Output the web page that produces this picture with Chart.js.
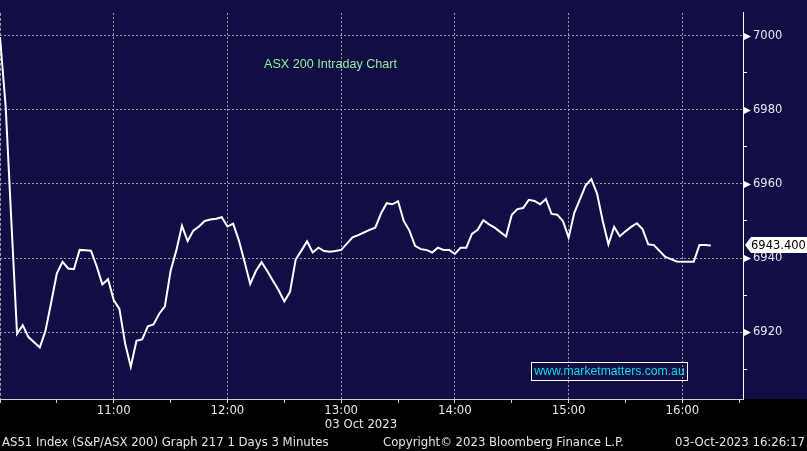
<!DOCTYPE html>
<html>
<head>
<meta charset="utf-8">
<script src="https://cdn.jsdelivr.net/npm/chart.js@4.4.0/dist/chart.umd.min.js"></script>
<style>
  body { margin: 0; background: #000; }
  #wrap { position: relative; width: 807px; height: 451px; overflow: hidden; background: #000; }
  #chart { position: absolute; left: 0; top: 0; }
  .txt { position: absolute; white-space: nowrap; }
  #title { left: 264px; top: 57px; font: 12.6px 'Liberation Sans', Arial, sans-serif; color: #96ee96; }
  #site { left: 531px; top: 362px; width: 155px; height: 17px; border: 1px solid #fff; font: 12.2px 'Liberation Sans', Arial, sans-serif; color: #14dcec; line-height: 17px; text-align: center; }
  #date { left: 361px; top: 416px; transform: translateX(-50%); font: 13px 'DejaVu Sans Condensed', 'DejaVu Sans', sans-serif; color: #e6e6e6; }
  .foot { top: 434px; font: 13px 'DejaVu Sans Condensed', 'DejaVu Sans', sans-serif; color: #e6e6e6; }
</style>
</head>
<body>
<div id="wrap">
  <canvas id="chart" width="807" height="451"></canvas>
  <div class="txt" id="title">ASX 200 Intraday Chart</div>
  <div class="txt" id="site">www.marketmatters.com.au</div>
  <div class="txt" id="date">03 Oct 2023</div>
  <div class="txt foot" style="left:2px">AS51 Index (S&amp;P/ASX 200) Graph 217 1 Days 3 Minutes</div>
  <div class="txt foot" style="left:383px">Copyright© 2023 Bloomberg Finance L.P.</div>
  <div class="txt foot" style="right:2px">03-Oct-2023 16:26:17</div>
</div>
<script>
// session setup: 3 minute closes from 10:00
const sessionStartHour = 10;
const intervalMinutes = 3;

// ASX 200 closes, one per 3 minute bar
const closes = [
  6999.6, 6980.8, 6949.8, 6919.6, 6921.9, 6918.7, 6917.3, 6915.9, 6920.4, 6928.0,
  6935.9, 6939.0, 6937.2, 6937.0, 6942.2, 6942.1, 6942.0, 6937.8, 6932.9, 6934.3,
  6928.7, 6926.3, 6917.0, 6910.7, 6917.7, 6918.1, 6921.6, 6922.1, 6925.0, 6927.0,
  6936.5, 6942.0, 6948.7, 6944.6, 6947.4, 6948.5, 6950.0, 6950.4, 6950.6, 6951.0,
  6948.5, 6949.3, 6944.8, 6939.1, 6933.0, 6936.5, 6938.9, 6936.5, 6933.9, 6931.3,
  6928.3, 6930.9, 6939.6, 6942.0, 6944.5, 6941.5, 6942.8, 6941.9, 6941.7, 6941.9,
  6942.2, 6943.9, 6945.6, 6946.2, 6946.9, 6947.6, 6948.2, 6952.0, 6954.8, 6954.5,
  6955.3, 6950.0, 6947.4, 6943.3, 6942.4, 6942.2, 6941.5, 6942.8, 6942.2, 6942.2,
  6941.1, 6942.8, 6942.8, 6946.5, 6947.6, 6950.2, 6949.1, 6948.2, 6947.0, 6945.8,
  6951.7, 6953.2, 6953.5, 6955.7, 6955.4, 6954.5, 6955.9, 6951.9, 6951.7, 6950.0,
  6945.5, 6952.2, 6955.9, 6959.6, 6961.3, 6957.4, 6950.0, 6943.7, 6948.4, 6945.9,
  6947.2, 6948.4, 6949.4, 6947.8, 6943.7, 6943.5, 6941.9, 6940.3, 6939.7, 6939.1,
  6939.0, 6939.0, 6939.0, 6943.5, 6943.5, 6943.4
];

// axis ticks
const priceTicks = [6920, 6940, 6960, 6980, 7000];
const minorPriceTicks = [6910, 6930, 6950, 6970, 6990];
const hourLabels = ['11:00', '12:00', '13:00', '14:00', '15:00', '16:00'];
const halfHourTicks = [0, 30, 60, 90, 120, 150, 180, 210, 240, 270, 300, 330, 360, 390];

const navy = '#100e45';
const gridGrey = '#a0a0a0';
const textColor = '#e6e6f0';

function toClock(mins) {
    const h = sessionStartHour + Math.floor(mins / 60);
    const m = mins % 60;
    return h + ':' + String(m).padStart(2, '0');
}

const points = closes.map((v, i) => ({ x: i * intervalMinutes, y: v }));

// navy panel, tick arrows and last price tag
const bloombergFrame = {
    id: 'bloombergFrame',
    beforeDraw(chart) {
        const ctx = chart.ctx;
        ctx.save();
        ctx.fillStyle = '#000';
        ctx.fillRect(0, 0, chart.width, chart.height);
        ctx.fillStyle = navy;
        ctx.fillRect(0, 0, chart.width, chart.chartArea.bottom);
        ctx.restore();
    },
    afterDraw(chart) {
        const ctx = chart.ctx;
        const yScale = chart.scales.y;
        const ax = chart.chartArea.right;
        ctx.save();
        ctx.fillStyle = '#fff';
        priceTicks.forEach(v => {
            const py = Math.round(yScale.getPixelForValue(v)) + 0.5;
            ctx.beginPath();
            ctx.moveTo(ax + 1, py - 3.5);
            ctx.lineTo(ax + 8, py);
            ctx.lineTo(ax + 1, py + 3.5);
            ctx.closePath();
            ctx.fill();
        });

        const last = closes[closes.length - 1];
        const py = Math.round(yScale.getPixelForValue(last));
        ctx.beginPath();
        ctx.moveTo(ax + 2, py);
        ctx.lineTo(ax + 8, py - 8);
        ctx.lineTo(chart.width, py - 8);
        ctx.lineTo(chart.width, py + 8);
        ctx.lineTo(ax + 8, py + 8);
        ctx.closePath();
        ctx.fill();
        ctx.fillStyle = '#000';
        ctx.font = "11.5px 'DejaVu Sans'";
        ctx.textBaseline = 'middle';
        ctx.fillText(last.toFixed(3), ax + 8, py + 1);
        ctx.restore();
    }
};

new Chart(document.getElementById('chart'), {
    type: 'line',
    data: {
        datasets: [{
            label: 'AS51 Index',
            data: points,
            borderColor: '#ffffff',
            borderWidth: 2,
            pointRadius: 0,
            tension: 0
        }]
    },
    options: {
        responsive: false,
        animation: false,
        devicePixelRatio: 1,
        layout: { padding: 0 },
        plugins: { legend: { display: false }, tooltip: { enabled: false } },
        scales: {
            x: {
                type: 'linear',
                min: 0,
                max: 392,
                afterBuildTicks: s => { s.ticks = halfHourTicks.map(v => ({ value: v })); },
                afterFit: s => { s.height = 52; },
                grid: {
                    color: c => (c.tick && c.tick.value % 60 === 0) ? gridGrey : 'transparent',
                    tickColor: '#d0d0d0',
                    tickLength: 4
                },
                border: {
                    color: '#d0d0d0',
                    width: 1,
                    dash: c => (c.tick && c.tick.value === 0) ? [3, 2] : [2, 2]
                },
                ticks: {
                    autoSkip: false,
                    maxRotation: 0,
                    padding: 0,
                    color: textColor,
                    font: { family: "'DejaVu Sans Condensed', 'DejaVu Sans'", size: 13 },
                    callback: v => {
                        const lbl = toClock(v);
                        return hourLabels.includes(lbl) ? lbl : '';
                    }
                }
            },
            y: {
                position: 'right',
                min: 6902,
                max: 7006.1,
                afterBuildTicks: s => {
                    s.ticks = priceTicks.concat(minorPriceTicks).sort((a, b) => a - b).map(v => ({ value: v }));
                },
                afterFit: s => { s.width = 64; },
                grid: {
                    color: c => (c.tick && priceTicks.includes(c.tick.value)) ? gridGrey : 'transparent',
                    tickColor: c => (c.tick && priceTicks.includes(c.tick.value)) ? 'transparent' : '#ffffff',
                    tickLength: 4
                },
                border: { color: '#ffffff', width: 1, dash: [2, 2] },
                ticks: {
                    autoSkip: false,
                    padding: 6,
                    color: textColor,
                    font: { family: "'DejaVu Sans'", size: 11.5 },
                    callback: v => priceTicks.includes(v) ? String(v) : ''
                }
            }
        }
    },
    plugins: [bloombergFrame]
});
</script>
</body>
</html>
